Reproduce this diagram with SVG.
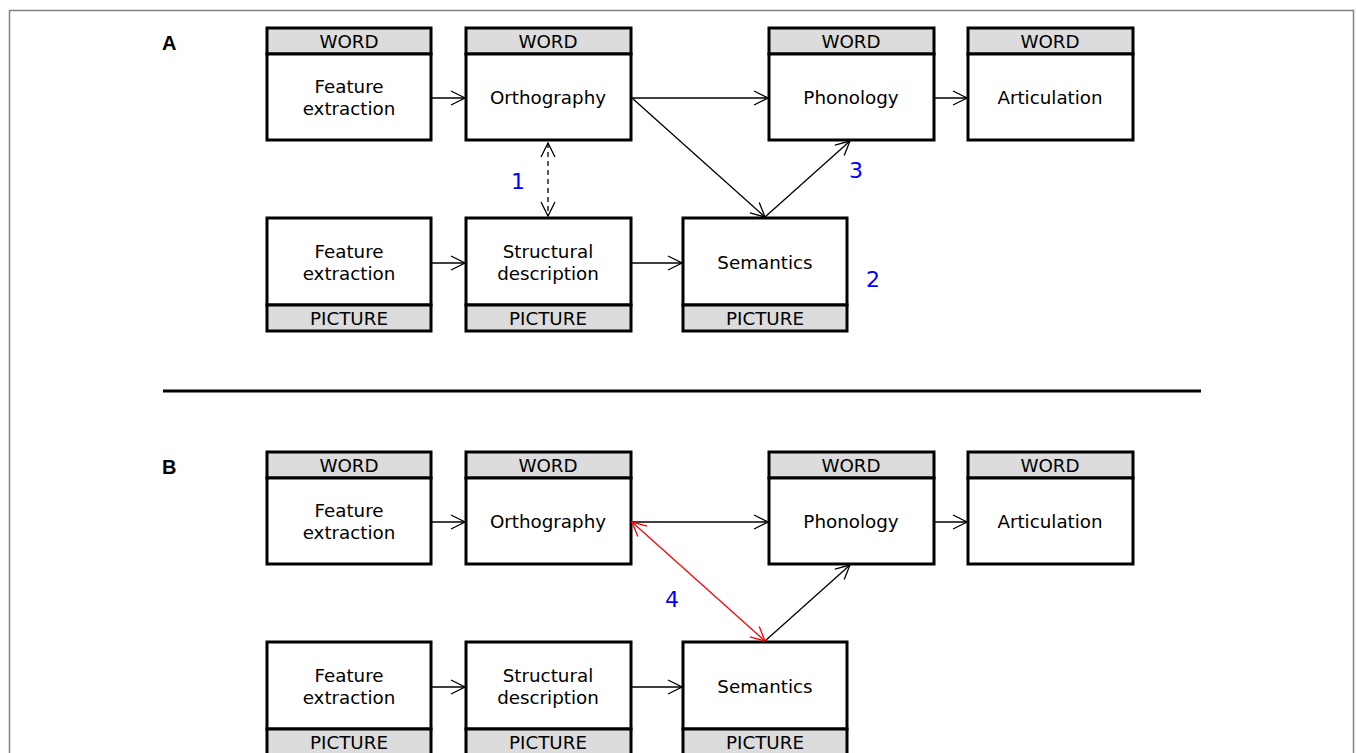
<svg xmlns="http://www.w3.org/2000/svg" width="1357" height="753" viewBox="0 0 1357 753">
<defs>
<style>
.box{fill:#fff;stroke:#000;stroke-width:3}
.hdr{fill:#dcdcdc;stroke:#000;stroke-width:3}
.t{font-family:"DejaVu Sans",Verdana,sans-serif;font-size:18.3px;fill:#000;text-anchor:middle}
.n{font-family:"DejaVu Sans",Verdana,sans-serif;font-size:22px;fill:#0000ff;text-anchor:middle}
.lbl{font-family:"Liberation Sans",Arial,sans-serif;font-size:20px;font-weight:bold;fill:#000}
.c{stroke:#000;stroke-width:1.3;fill:none}
.r{stroke:#ff0000;stroke-width:1.3;fill:none}
</style>
<marker id="ah" viewBox="0 0 16 16" refX="15" refY="8" markerWidth="16" markerHeight="16" markerUnits="userSpaceOnUse" orient="auto-start-reverse">
<path d="M1,1 L15,8 L1,15" fill="none" stroke="#000" stroke-width="1.3"/>
</marker>
<marker id="ahr" viewBox="0 0 16 16" refX="15" refY="8" markerWidth="16" markerHeight="16" markerUnits="userSpaceOnUse" orient="auto-start-reverse">
<path d="M1,1 L15,8 L1,15" fill="none" stroke="#ff0000" stroke-width="1.3"/>
</marker>
</defs>
<rect x="0" y="0" width="1357" height="753" fill="#fff"/>
<rect x="9.5" y="10.5" width="1344" height="760" fill="none" stroke="#808080" stroke-width="1.5"/>
<text class="lbl" x="162" y="50">A</text>
<text class="lbl" x="162" y="474">B</text>
<line x1="163" y1="391" x2="1201" y2="391" stroke="#000" stroke-width="3"/>

<!-- Panel A -->
<g id="a-fe-word"><rect class="hdr" x="267" y="28" width="164" height="26"/><rect class="box" x="267" y="54" width="164" height="86"/><text class="t" x="349" y="48">WORD</text><text class="t" x="349" y="93">Feature</text><text class="t" x="349" y="115">extraction</text></g>
<g id="a-ortho"><rect class="hdr" x="466" y="28" width="165" height="26"/><rect class="box" x="466" y="54" width="165" height="86"/><text class="t" x="548" y="104">Orthography</text><text class="t" x="548" y="48">WORD</text></g>
<g id="a-phono"><rect class="hdr" x="769" y="28" width="165" height="26"/><rect class="box" x="769" y="54" width="165" height="86"/><text class="t" x="851" y="48">WORD</text><text class="t" x="851" y="104">Phonology</text></g>
<g id="a-artic"><rect class="hdr" x="968" y="28" width="165" height="26"/><rect class="box" x="968" y="54" width="165" height="86"/><text class="t" x="1050" y="48">WORD</text><text class="t" x="1050" y="104">Articulation</text></g>
<g id="a-fe-pic"><rect class="box" x="267" y="218" width="164" height="87"/><rect class="hdr" x="267" y="305" width="164" height="26"/><text class="t" x="349" y="258">Feature</text><text class="t" x="349" y="280">extraction</text><text class="t" x="349" y="325">PICTURE</text></g>
<g id="a-struct"><rect class="box" x="466" y="218" width="165" height="87"/><rect class="hdr" x="466" y="305" width="165" height="26"/><text class="t" x="548" y="258">Structural</text><text class="t" x="548" y="280">description</text><text class="t" x="548" y="325">PICTURE</text></g>
<g id="a-sem"><rect class="box" x="683" y="218" width="164" height="87"/><rect class="hdr" x="683" y="305" width="164" height="26"/><text class="t" x="765" y="269">Semantics</text><text class="t" x="765" y="325">PICTURE</text></g>

<!-- Panel B -->
<g id="b-fe-word"><rect class="hdr" x="267" y="452" width="164" height="26"/><rect class="box" x="267" y="478" width="164" height="86"/><text class="t" x="349" y="472">WORD</text><text class="t" x="349" y="517">Feature</text><text class="t" x="349" y="539">extraction</text></g>
<g id="b-ortho"><rect class="hdr" x="466" y="452" width="165" height="26"/><rect class="box" x="466" y="478" width="165" height="86"/><text class="t" x="548" y="472">WORD</text><text class="t" x="548" y="528">Orthography</text></g>
<g id="b-phono"><rect class="hdr" x="769" y="452" width="165" height="26"/><rect class="box" x="769" y="478" width="165" height="86"/><text class="t" x="851" y="472">WORD</text><text class="t" x="851" y="528">Phonology</text></g>
<g id="b-artic"><rect class="hdr" x="968" y="452" width="165" height="26"/><rect class="box" x="968" y="478" width="165" height="86"/><text class="t" x="1050" y="472">WORD</text><text class="t" x="1050" y="528">Articulation</text></g>
<g id="b-fe-pic"><rect class="box" x="267" y="642" width="164" height="87"/><rect class="hdr" x="267" y="729" width="164" height="26"/><text class="t" x="349" y="682">Feature</text><text class="t" x="349" y="704">extraction</text><text class="t" x="349" y="749">PICTURE</text></g>
<g id="b-struct"><rect class="box" x="466" y="642" width="165" height="87"/><rect class="hdr" x="466" y="729" width="165" height="26"/><text class="t" x="548" y="682">Structural</text><text class="t" x="548" y="704">description</text><text class="t" x="548" y="749">PICTURE</text></g>
<g id="b-sem"><rect class="box" x="683" y="642" width="164" height="87"/><rect class="hdr" x="683" y="729" width="164" height="26"/><text class="t" x="765" y="693">Semantics</text><text class="t" x="765" y="749">PICTURE</text></g>

<g id="connectors">
<line class="c" x1="431" y1="98" x2="465" y2="98" marker-end="url(#ah)"/>
<line class="c" x1="631" y1="98" x2="768" y2="98" marker-end="url(#ah)"/>
<line class="c" x1="934" y1="98" x2="967" y2="98" marker-end="url(#ah)"/>
<line class="c" x1="632" y1="98" x2="765" y2="217" marker-end="url(#ah)"/>
<line class="c" x1="765" y1="217" x2="850" y2="141" marker-end="url(#ah)"/>
<line class="c" x1="548" y1="143" x2="548" y2="216" stroke-dasharray="5,4" marker-start="url(#ah)" marker-end="url(#ah)"/>
<line class="c" x1="431" y1="263" x2="465" y2="263" marker-end="url(#ah)"/>
<line class="c" x1="631" y1="263" x2="682" y2="263" marker-end="url(#ah)"/>

<line class="c" x1="431" y1="522" x2="465" y2="522" marker-end="url(#ah)"/>
<line class="c" x1="631" y1="522" x2="768" y2="522" marker-end="url(#ah)"/>
<line class="c" x1="934" y1="522" x2="967" y2="522" marker-end="url(#ah)"/>
<line class="r" x1="632" y1="522" x2="765" y2="641" marker-start="url(#ahr)" marker-end="url(#ahr)"/>
<line class="c" x1="765" y1="641" x2="850" y2="565" marker-end="url(#ah)"/>
<line class="c" x1="431" y1="687" x2="465" y2="687" marker-end="url(#ah)"/>
<line class="c" x1="631" y1="687" x2="682" y2="687" marker-end="url(#ah)"/>
</g>
<text class="n" x="518" y="189">1</text>
<text class="n" x="873" y="287">2</text>
<text class="n" x="856" y="178">3</text>
<text class="n" x="672" y="607">4</text>
</svg>
